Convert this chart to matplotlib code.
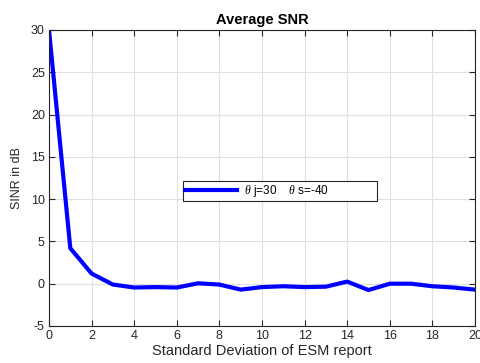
import numpy as np
import matplotlib
matplotlib.use('Agg')
import matplotlib.pyplot as plt

plt.rcParams['font.family'] = ['Liberation Sans', 'DejaVu Sans']
plt.rcParams['mathtext.fontset'] = 'custom'
plt.rcParams['mathtext.it'] = 'Liberation Serif:italic'
plt.rcParams['axes.unicode_minus'] = False

# data
std_dev = np.arange(0, 21)
snr_db = [30, 4.2, 1.2, -0.1, -0.45, -0.4, -0.45, 0.05, -0.1, -0.7, -0.4,
          -0.3, -0.4, -0.35, 0.25, -0.75, 0.0, 0.0, -0.3, -0.45, -0.7]
series_label = r'$\theta$ j=30    $\theta$ s=-40'

fig = plt.figure(figsize=(4.8, 3.63), dpi=100)
ax = fig.add_axes([49/480, 1-326/363, 426/480, 296/363])

ax.plot(std_dev, snr_db, '-', color='#0000ff', lw=3, label=series_label)

ax.set_xlim(0, 20)
ax.set_ylim(-5, 30)
ax.set_xticks(np.arange(0, 21, 2))
ax.set_yticks(np.arange(-5, 31, 5))
ax.grid(True, color='#e0e0e0', lw=0.8)
ax.set_axisbelow(True)
ax.tick_params(direction='in', top=True, right=True, labelsize=9,
               colors='#262626', length=4, width=0.8, pad=3)
for s in ax.spines.values():
  s.set_color('#262626')
  s.set_linewidth(0.8)

ax.set_title('Average SNR', fontsize=10.5, fontweight='bold', pad=4)
ax.set_xlabel('Standard Deviation of ESM report', fontsize=10.5, color='#262626', labelpad=1)
ax.set_ylabel('SINR in dB', fontsize=9, color='#262626', labelpad=6)

# legend box spans roughly x 6.3..15.4 in the reference, text left-aligned
leg = ax.legend(loc='upper left', bbox_to_anchor=(0.3146, 0.4257, 0.455, 0.064),
                mode='expand', fontsize=8.5, fancybox=False,
                framealpha=1, edgecolor='#262626', handlelength=4.4,
                borderpad=0.15, handletextpad=0.6, borderaxespad=0)
leg.get_frame().set_linewidth(0.8)

fig.savefig('out.png', dpi=100)
